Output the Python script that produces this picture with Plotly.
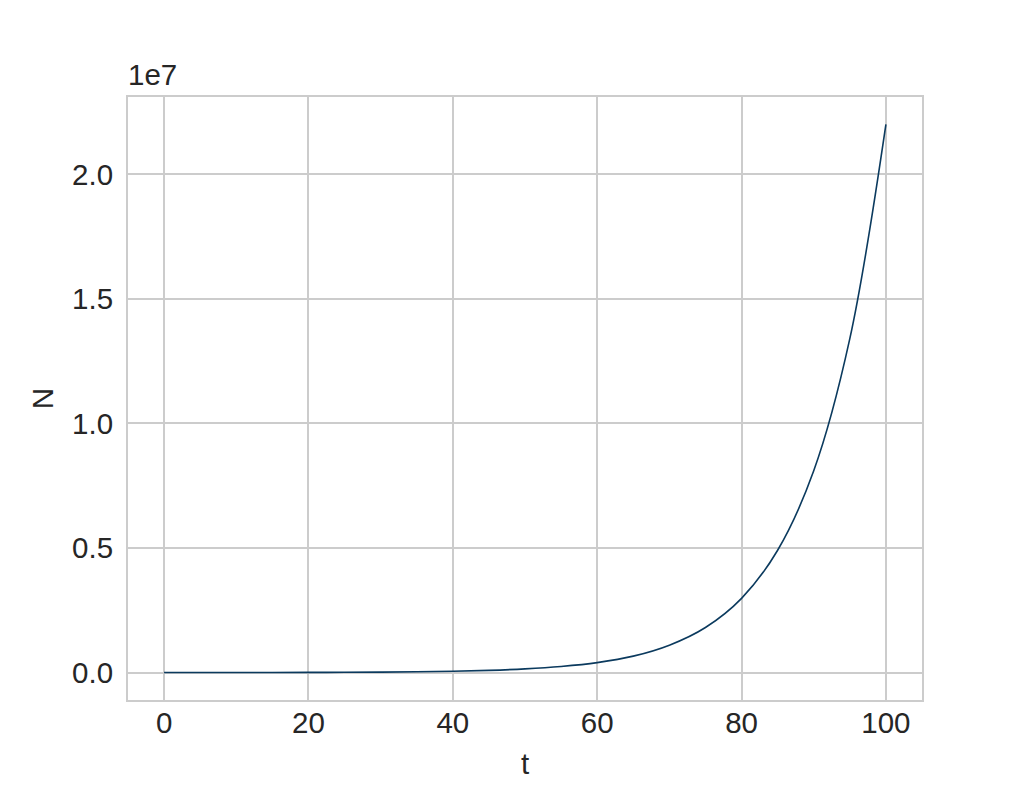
import plotly.graph_objects as go

t_vals = [0, 5, 10, 15, 20, 25, 30, 35, 40, 45, 50, 55, 60, 65, 70, 75, 80, 85, 90, 95, 100]
n_vals = [1.0e3, 1.6e3, 2.7e3, 4.5e3, 7.4e3, 1.2e4, 2.0e4, 3.3e4, 5.5e4, 9.0e4,
          1.48e5, 2.45e5, 4.0e5, 6.6e5, 1.10e6, 1.81e6, 2.98e6, 4.91e6, 8.10e6, 1.34e7, 2.20e7]

x_ticks = [0, 20, 40, 60, 80, 100]
y_ticks = [0, 5e6, 1e7, 1.5e7, 2e7]
y_ticktext = ["0.0", "0.5", "1.0", "1.5", "2.0"]

font_family = "Liberation Sans, Arial, sans-serif"
text_color = "#262626"
grid_color = "#cccccc"
fs = 29.5

fig = go.Figure()
fig.add_trace(go.Scatter(
    x=t_vals, y=n_vals, mode="lines",
    line=dict(color="#0b3a5e", width=1.6, shape="spline", smoothing=1.0),
    showlegend=False,
))

fig.update_layout(
    width=1024, height=787,
    margin=dict(l=120, r=110, t=89, b=95),
    paper_bgcolor="white", plot_bgcolor="white",
    font=dict(family=font_family, size=fs, color=text_color),
    xaxis=dict(
        range=[-5, 105], tickvals=x_ticks, showgrid=True, gridcolor=grid_color, gridwidth=2,
        zeroline=False, showline=True, linecolor=grid_color, linewidth=2, mirror=True,
        ticks="", ticklabelstandoff=-4,
        title=dict(text="t", standoff=15, font=dict(size=fs, color=text_color)),
    ),
    yaxis=dict(
        range=[-1.1e6, 2.31e7], tickvals=y_ticks, ticktext=y_ticktext,
        showgrid=True, gridcolor=grid_color, gridwidth=2,
        zeroline=False, showline=True, linecolor=grid_color, linewidth=2, mirror=True,
        ticks="", ticklabelstandoff=7,
        title=dict(text="N", standoff=10, font=dict(size=fs, color=text_color)),
    ),
    annotations=[dict(
        text="1e7", xref="paper", yref="paper", x=0, y=1, xanchor="left", yanchor="bottom",
        xshift=-2, yshift=4, showarrow=False, font=dict(size=fs, color=text_color, family=font_family),
    )],
)

fig.write_html("out.html")
